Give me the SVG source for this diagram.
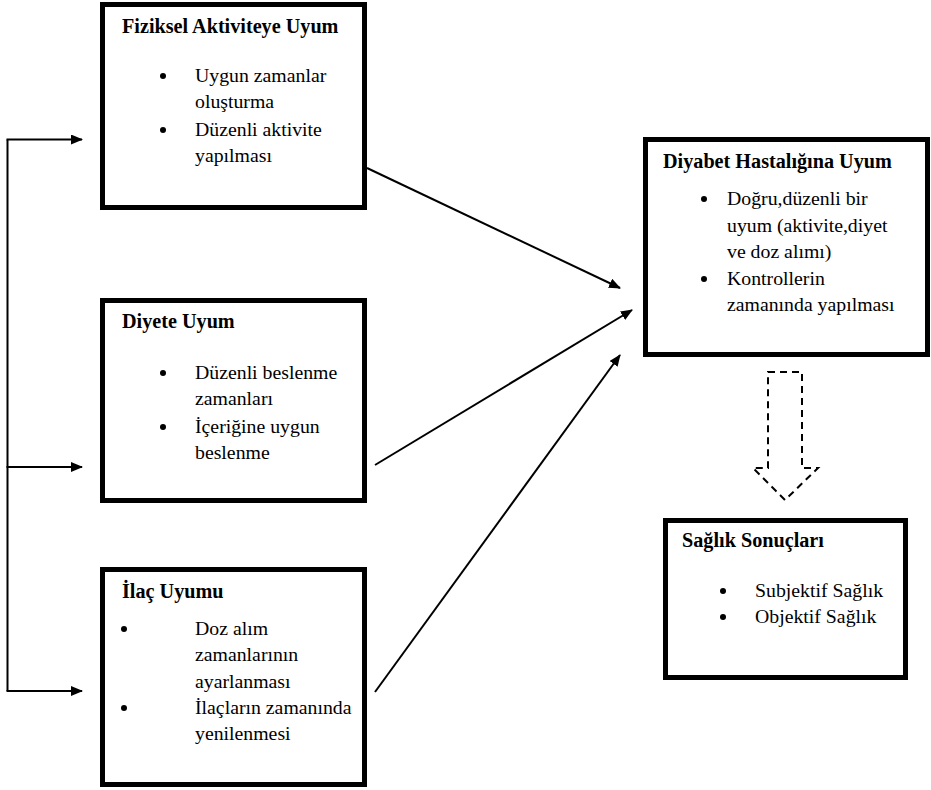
<svg xmlns="http://www.w3.org/2000/svg" width="931" height="790" viewBox="0 0 931 790">
<defs>
<marker id="ah" markerWidth="12" markerHeight="10" refX="11" refY="5" orient="auto" markerUnits="userSpaceOnUse">
<path d="M0,0 L12,5 L0,10 Z" fill="#000"/>
</marker>
<style>
.box{fill:#fff;stroke:#000;stroke-width:5}
text{font-family:'Liberation Serif','Times New Roman',serif;font-size:19.8px;fill:#000}
.b{font-weight:bold;font-size:20.2px}
.c{fill:none;stroke:#000;stroke-width:2}
.dot{fill:#000}
</style>
</defs>
<rect width="931" height="790" fill="#fff"/>
<g id="connectors">
<path class="c" d="M7.5,691 L7.5,139.5"/>
<path class="c" d="M6.5,139.5 L82,139.5" marker-end="url(#ah)"/>
<path class="c" d="M6.5,467 L82,467" marker-end="url(#ah)"/>
<path class="c" d="M6.5,691 L82,691" marker-end="url(#ah)"/>
<path class="c" d="M367,168 L620,288" marker-end="url(#ah)"/>
<path class="c" d="M375,465 L632,310" marker-end="url(#ah)"/>
<path class="c" d="M375,692 L620,355" marker-end="url(#ah)"/>
<path d="M768,372 L802,372 L802,468 L818,468 L785,500 L753,468 L768,468 Z" fill="none" stroke="#000" stroke-width="2" stroke-dasharray="7,5"/>
</g>
<g id="fiziksel">
<rect class="box" x="102.5" y="4.5" width="262" height="203"/>
<text class="b" x="122" y="33">Fiziksel Aktiviteye Uyum</text>
<circle class="dot" cx="163" cy="76" r="3"/>
<circle class="dot" cx="163" cy="130" r="3"/>
<text x="195" y="82">Uygun zamanlar</text>
<text x="195" y="108">oluşturma</text>
<text x="195" y="136">Düzenli aktivite</text>
<text x="195" y="162">yapılması</text>
</g>
<g id="diyete">
<rect class="box" x="102.5" y="300.5" width="262" height="200"/>
<text class="b" x="122" y="328">Diyete Uyum</text>
<circle class="dot" cx="163" cy="373" r="3"/>
<circle class="dot" cx="163" cy="427" r="3"/>
<text x="195" y="379">Düzenli beslenme</text>
<text x="195" y="405">zamanları</text>
<text x="195" y="433">İçeriğine uygun</text>
<text x="195" y="459">beslenme</text>
</g>
<g id="ilac">
<rect class="box" x="102.5" y="569.5" width="262" height="215"/>
<text class="b" x="122" y="598">İlaç Uyumu</text>
<circle class="dot" cx="124" cy="629" r="3"/>
<circle class="dot" cx="124" cy="708" r="3"/>
<text x="195" y="635">Doz alım</text>
<text x="195" y="661">zamanlarının</text>
<text x="195" y="688">ayarlanması</text>
<text x="195" y="714">İlaçların zamanında</text>
<text x="195" y="740">yenilenmesi</text>
</g>
<g id="diyabet">
<rect class="box" x="645.5" y="139.5" width="282" height="215"/>
<text class="b" x="663" y="168">Diyabet Hastalığına Uyum</text>
<circle class="dot" cx="704" cy="199" r="3"/>
<circle class="dot" cx="704" cy="279" r="3"/>
<text x="727" y="205">Doğru,düzenli bir</text>
<text x="727" y="232">uyum (aktivite,diyet</text>
<text x="727" y="258">ve doz alımı)</text>
<text x="727" y="285">Kontrollerin</text>
<text x="727" y="311">zamanında yapılması</text>
</g>
<g id="saglik">
<rect class="box" x="665.5" y="520.5" width="240" height="157"/>
<text class="b" x="682" y="547">Sağlık Sonuçları</text>
<circle class="dot" cx="723" cy="591" r="3"/>
<circle class="dot" cx="723" cy="617" r="3"/>
<text x="755" y="597">Subjektif Sağlık</text>
<text x="755" y="623">Objektif Sağlık</text>
</g>
</svg>
